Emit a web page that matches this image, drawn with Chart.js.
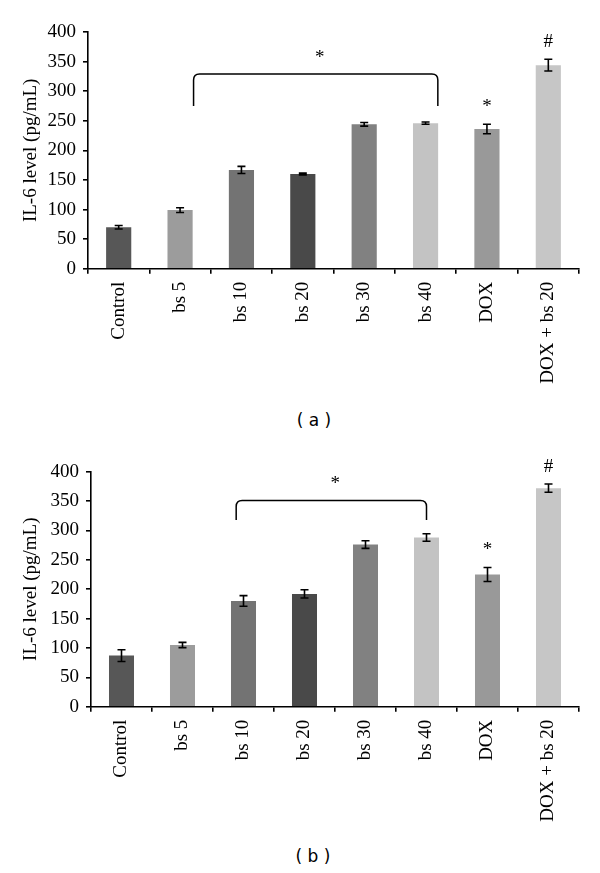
<!DOCTYPE html>
<html>
<head>
<meta charset="utf-8">
<script src="https://cdn.jsdelivr.net/npm/chart.js@4.4.1/dist/chart.umd.min.js"></script>
<style>
  body { margin: 0; background: #fff; width: 600px; height: 873px; position: relative; overflow: hidden; }
  .panel { position: absolute; left: 0; }
  .cap { position: absolute; width: 80px; text-align: center; font: 17px "DejaVu Sans", sans-serif; color: #000; }
</style>
</head>
<body>
<div class="panel" style="top:0"><canvas id="chartA" width="600" height="400"></canvas></div>
<div class="cap" style="left:274px; top:410px">( a )</div>
<div class="panel" style="top:440px"><canvas id="chartB" width="600" height="400"></canvas></div>
<div class="cap" style="left:273px; top:846px">( b )</div>
<script>
const categories = ['Control', 'bs 5', 'bs 10', 'bs 20', 'bs 30', 'bs 40', 'DOX', 'DOX + bs 20'];
const barColors = ['#575757', '#9c9c9c', '#737373', '#494949', '#818181', '#c3c3c3', '#999999', '#c6c6c6'];
const yTicks = [0, 50, 100, 150, 200, 250, 300, 350, 400];

const valuesA = [70, 99, 167, 160, 244, 246, 236, 344];
const errorsA = [3, 4, 6, 1.5, 3, 2, 8, 10];
const marksA = [{ index: 6, text: '*' }, { index: 7, text: '#' }];
const bracketA = { from: 1.22, to: 5.2, top: 329, bottom: 275, text: '*' };

const valuesB = [87, 105, 180, 192, 276, 288, 225, 372];
const errorsB = [10, 4.5, 9, 7, 6.5, 6.5, 12, 7];
const marksB = [{ index: 6, text: '*' }, { index: 7, text: '#' }];
const bracketB = { from: 1.88, to: 5.0, top: 351, bottom: 318, text: '*' };

Chart.defaults.font.family = '"Liberation Serif", serif';
Chart.defaults.color = '#000';

const extras = {
  id: 'extras',
  afterDatasetsDraw(chart, args, opts) {
    const { ctx, scales: { x, y } } = chart;
    ctx.save();
    ctx.strokeStyle = '#000';
    ctx.fillStyle = '#000';
    ctx.lineWidth = 1.6;
    // error bars
    opts.values.forEach((v, i) => {
      const e = opts.errors[i];
      const cx = x.getPixelForValue(i);
      const y1 = y.getPixelForValue(v + e);
      const y2 = y.getPixelForValue(v - e);
      ctx.beginPath();
      ctx.moveTo(cx, y1); ctx.lineTo(cx, y2);
      ctx.moveTo(cx - 4, y1); ctx.lineTo(cx + 4, y1);
      ctx.moveTo(cx - 4, y2); ctx.lineTo(cx + 4, y2);
      ctx.stroke();
    });
    // significance marks
    ctx.font = '19px "Liberation Serif", serif';
    ctx.textAlign = 'center';
    ctx.textBaseline = 'middle';
    opts.marks.forEach(m => {
      const v = opts.values[m.index] + opts.errors[m.index];
      ctx.fillText(m.text, x.getPixelForValue(m.index), y.getPixelForValue(v) - 17);
    });
    // bracket
    const b = opts.bracket;
    const x1 = x.getPixelForValue(b.from);
    const x2 = x.getPixelForValue(b.to);
    const yt = y.getPixelForValue(b.top);
    const yb = y.getPixelForValue(b.bottom);
    const r = 6;
    ctx.lineWidth = 1.5;
    ctx.beginPath();
    ctx.moveTo(x1, yb);
    ctx.lineTo(x1, yt + r);
    ctx.quadraticCurveTo(x1, yt, x1 + r, yt);
    ctx.lineTo(x2 - r, yt);
    ctx.quadraticCurveTo(x2, yt, x2, yt + r);
    ctx.lineTo(x2, yb);
    ctx.stroke();
    ctx.fillText(b.text, (x1 + x2) / 2 + 4, yt - 16);
    ctx.restore();
  }
};

function makeChart(id, values, errors, marks, bracket, geo) {
  return new Chart(document.getElementById(id), {
    type: 'bar',
    data: {
      labels: categories,
      datasets: [{
        data: values,
        backgroundColor: barColors,
        barPercentage: 0.41,
        categoryPercentage: 1
      }]
    },
    options: {
      responsive: false,
      animation: false,
      layout: { padding: { top: geo.top, right: 21, left: 0, bottom: 0 } },
      plugins: {
        legend: { display: false },
        tooltip: { enabled: false },
        extras: { values, errors, marks, bracket }
      },
      scales: {
        x: {
          border: { color: '#000', width: 1.6 },
          grid: { drawOnChartArea: false, drawTicks: true, tickLength: 5, color: '#000', lineWidth: 1.6 },
          ticks: { minRotation: 90, maxRotation: 90, padding: 8, font: { size: 19 }, color: '#000' },
          afterFit: s => { s.height = geo.xh; }
        },
        y: {
          min: 0,
          max: 400,
          afterBuildTicks: s => { s.ticks = yTicks.map(v => ({ value: v })); },
          border: { color: '#000', width: 1.6 },
          grid: { drawOnChartArea: false, drawTicks: true, tickLength: 5, color: '#000', lineWidth: 1.6 },
          ticks: { padding: 7, font: { size: 19 }, color: '#000' },
          title: { display: true, text: 'IL-6 level (pg/mL)', font: { size: 19 }, color: '#000', padding: { top: 20, bottom: 0 } },
          afterFit: s => { s.width = geo.yw; }
        }
      }
    },
    plugins: [extras]
  });
}

makeChart('chartA', valuesA, errorsA, marksA, bracketA, { top: 32, xh: 131.3, yw: 88 });
makeChart('chartB', valuesB, errorsB, marksB, bracketB, { top: 31.7, xh: 133.3, yw: 91 });
</script>
</body>
</html>
